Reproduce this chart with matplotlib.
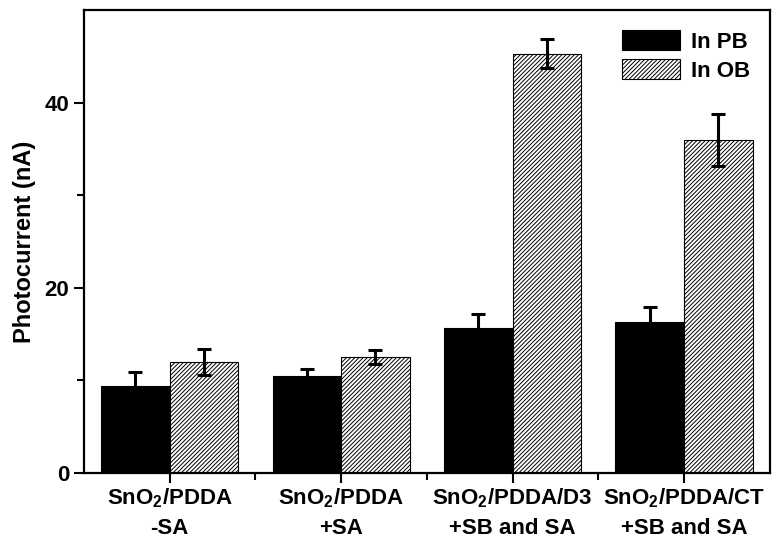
import numpy as np
import matplotlib
matplotlib.use("Agg")
import matplotlib.pyplot as plt

plt.rcParams["font.family"] = ["Liberation Sans", "DejaVu Sans"]
plt.rcParams["font.weight"] = "bold"
plt.rcParams["mathtext.fontset"] = "custom"
plt.rcParams["mathtext.rm"] = "Liberation Sans:bold"
plt.rcParams["mathtext.bf"] = "Liberation Sans:bold"
plt.rcParams["mathtext.it"] = "Liberation Sans:bold"
plt.rcParams["hatch.linewidth"] = 0.7
plt.rcParams["hatch.color"] = "#555555"

# Dati
categories = [
    "SnO$_2$/PDDA\n-SA",
    "SnO$_2$/PDDA\n+SA",
    "SnO$_2$/PDDA/D3\n+SB and SA",
    "SnO$_2$/PDDA/CT\n+SB and SA",
]
pb_vals = [9.4, 10.5, 15.7, 16.3]
pb_err = [1.5, 0.7, 1.5, 1.6]
ob_vals = [12.0, 12.5, 45.3, 36.0]
ob_err = [1.4, 0.75, 1.55, 2.8]

fig = plt.figure(figsize=(7.81, 5.44), dpi=100)
ax = fig.add_axes([0.1076, 0.1305, 0.878, 0.851])

x = np.arange(1, len(categories) + 1)
w = 0.4
ax.bar(x - w / 2, pb_vals, w, color="black", edgecolor="black",
       linewidth=0.8, label="In PB")
ax.bar(x + w / 2, ob_vals, w, color="white", edgecolor="black",
       linewidth=0.8, hatch="////////", label="In OB")
ax.errorbar(x - w / 2, pb_vals, yerr=pb_err, fmt="none", ecolor="black",
            elinewidth=2.2, capsize=5, capthick=2.2)
ax.errorbar(x + w / 2, ob_vals, yerr=ob_err, fmt="none", ecolor="black",
            elinewidth=2.2, capsize=5, capthick=2.2)

ax.set_xlim(0.5, 4.5)
ax.set_ylim(0, 50)
ax.set_xticks(x)
ax.set_xticklabels(categories, fontsize=13.5, fontweight="bold", linespacing=1.5)
ax.set_xticks([1.5, 2.5, 3.5], minor=True)
ax.set_yticks([0, 20, 40])
ax.set_yticks([10, 30], minor=True)
ax.tick_params(axis="both", which="both", direction="out", width=1.5)
ax.tick_params(axis="both", which="major", length=7, labelsize=16)
ax.tick_params(axis="both", which="minor", length=5)
ax.tick_params(axis="x", which="major", pad=3)
for s in ax.spines.values():
    s.set_linewidth(1.6)
ax.set_ylabel("Photocurrent (nA)", fontsize=17, fontweight="bold", labelpad=6)

ax.legend(loc="upper right", frameon=False, fontsize=16, handlelength=2.6,
          handleheight=1.0, borderaxespad=0.5, labelspacing=0.3,
          handletextpad=0.5)

fig.savefig("out.png", dpi=100)
